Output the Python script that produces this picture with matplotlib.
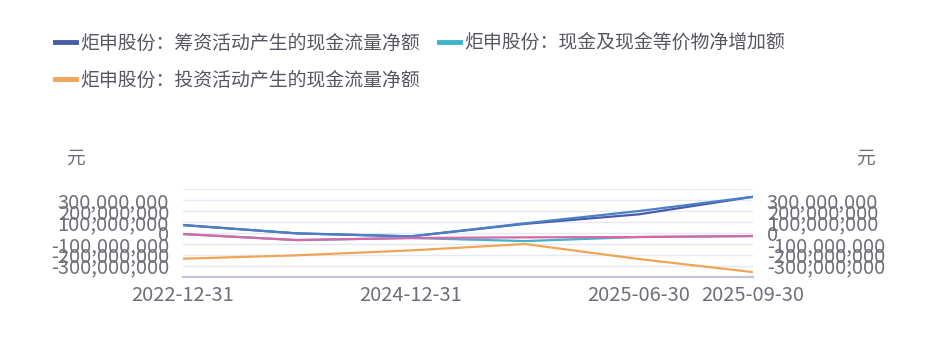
import numpy as np
import matplotlib
matplotlib.use("Agg")
import matplotlib.pyplot as plt
from matplotlib.lines import Line2D

plt.rcParams['font.family'] = ['Noto Sans CJK SC', 'DejaVu Sans']

# categories and series (元)
dates = ['2022-12-31', '2023-12-31', '2024-12-31', '2025-03-31', '2025-06-30', '2025-09-30']
shown_dates = ['2022-12-31', '', '2024-12-31', '', '2025-06-30', '2025-09-30']
financing = [71e6, -5e6, -32e6, 82e6, 169e6, 329e6]
cash_change = [-11e6, -66e6, -47e6, -75e6, -38e6, -29e6]
investing = [-236e6, -205e6, -160e6, -102e6, -239e6, -358e6]
series_4 = [71e6, -5e6, -32e6, 87e6, 199e6, 329e6]
series_5 = [-11e6, -66e6, -47e6, -41e6, -38e6, -29e6]

names = ['炬申股份：筹资活动产生的现金流量净额',
         '炬申股份：现金及现金等价物净增加额',
         '炬申股份：投资活动产生的现金流量净额']
colors = ['#4a5aa8', '#3cb4cc', '#f0a456']
extra_colors = ['#4a80c8', '#dc64a8']

y_ticks = [-300e6, -200e6, -100e6, 0, 100e6, 200e6, 300e6]
grid_vals = np.arange(-400e6, 401e6, 100e6)

text_color = '#6e7079'

fig = plt.figure(figsize=(9.37, 3.39), dpi=100)
ax = fig.add_axes([183 / 937, 1 - 276.7 / 339, (753 - 183) / 937, 87.7 / 339])

x = np.arange(len(dates))
for vals, c in zip([financing, cash_change, investing], colors):
    ax.plot(x, vals, color=c, lw=1.6, solid_capstyle='round', zorder=3)
for vals, c in zip([series_4, series_5], extra_colors):
    ax.plot(x, vals, color=c, lw=1.6, solid_capstyle='round', zorder=4)

ax.set_xlim(0, len(dates) - 1)
ax.set_ylim(-400e6, 400e6)
for g in grid_vals[1:]:
    ax.axhline(g, color='#e6e9f2', lw=1.0, zorder=1)

for s in ['top', 'left', 'right']:
    ax.spines[s].set_visible(False)
ax.spines['bottom'].set_color('#c2c5d8')
ax.spines['bottom'].set_linewidth(1.6)

ax.set_xticks(x)
ax.set_xticklabels(shown_dates, fontsize=14.5, color=text_color)
ax.tick_params(axis='x', length=0, pad=6)

ax.set_yticks(y_ticks)
ax.set_yticklabels(['{:,.0f}'.format(v) for v in y_ticks], fontsize=14.5, color=text_color)
ax.tick_params(axis='y', length=0, pad=10, labelright=True)

fig.text(66 / 937, 1 - 158 / 339, '元', fontsize=13.5, color=text_color, va='center')
fig.text(856 / 937, 1 - 158 / 339, '元', fontsize=13.5, color=text_color, va='center')

handles = [Line2D([], [], color=c, lw=3.5) for c in colors]
order = [0, 2, 1]
leg = fig.legend([handles[i] for i in order], [names[i] for i in order],
                 loc='upper left', bbox_to_anchor=(55 / 937, 1 - 33 / 339), ncol=2,
                 frameon=False, fontsize=13.6, handlelength=1.1, handletextpad=0.25,
                 columnspacing=1.0, labelspacing=0.85, borderaxespad=0, borderpad=0)
for t in leg.get_texts():
    t.set_color('#555660')

fig.savefig('out.png', dpi=100, facecolor='white')
